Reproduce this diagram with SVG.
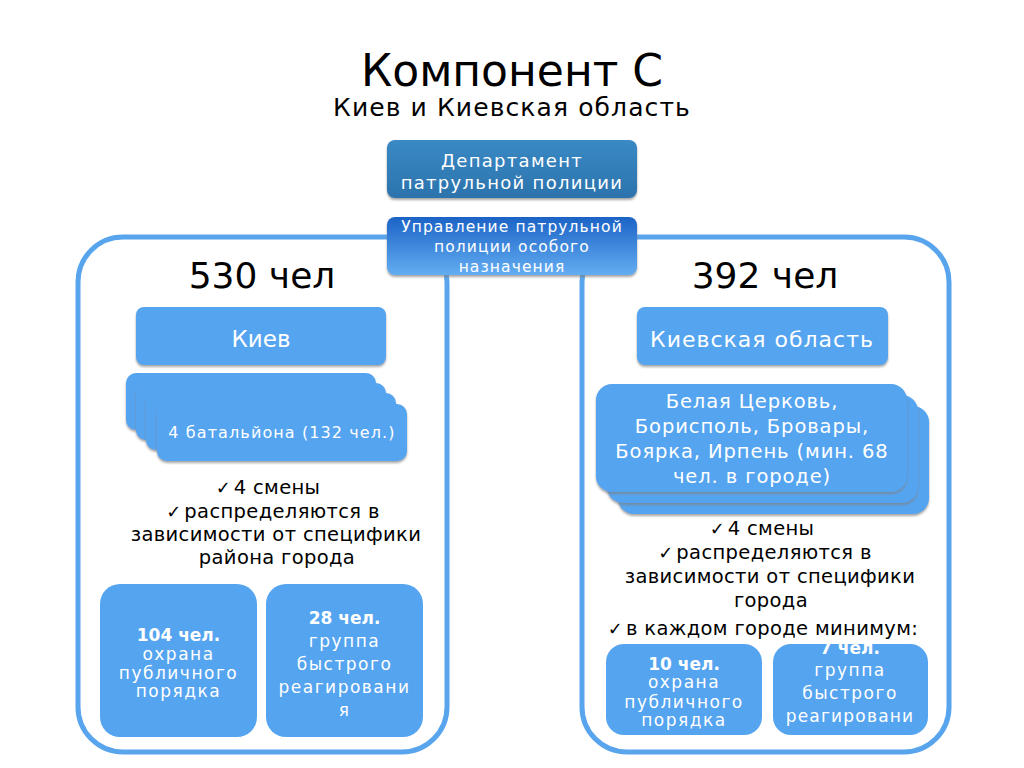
<svg xmlns="http://www.w3.org/2000/svg" width="1024" height="768" viewBox="0 0 1024 768">
<defs>
<style>
text{font-family:"DejaVu Sans","Liberation Sans",sans-serif;}
.blk{fill:#000;}
.wht{fill:#fff;}
.box{fill:#55a4f0;}
.cont{fill:none;stroke:#58a5ee;stroke-width:5;}
.ck{font-size:18px;letter-spacing:3px;}
.b{font-weight:bold;letter-spacing:0;}
.sp{letter-spacing:1.5px;}
</style>
<linearGradient id="gDept" x1="0" y1="0" x2="0" y2="1">
<stop offset="0" stop-color="#3a89c4"/>
<stop offset="1" stop-color="#2c73ad"/>
</linearGradient>
<linearGradient id="gUpr" x1="0" y1="0" x2="0" y2="1">
<stop offset="0" stop-color="#1c63c6"/>
<stop offset="1" stop-color="#63adf2"/>
</linearGradient>
<filter id="sh" x="-10%" y="-10%" width="120%" height="130%">
<feDropShadow dx="0" dy="2" stdDeviation="1" flood-color="#808080" flood-opacity="0.7"/>
</filter>
<clipPath id="c4"><rect x="773" y="644" width="155" height="92" rx="18"/></clipPath>
</defs>
<rect width="1024" height="768" fill="#fff"/>

<g id="title">
<text x="512" y="86" font-size="44" text-anchor="middle" class="blk">Компонент С</text>
<text x="512" y="116" font-size="25" letter-spacing="1.1" text-anchor="middle" class="blk">Киев и Киевская область</text>
</g>

<g id="connectors">
<rect id="left-container" class="cont" x="78" y="237" width="369" height="515" rx="45"/>
<rect id="right-container" class="cont" x="582" y="237" width="367" height="515" rx="45"/>
</g>

<g id="dept">
<rect x="387" y="140" width="250" height="58" rx="8" fill="url(#gDept)" filter="url(#sh)"/>
<text x="512" y="167" font-size="18" letter-spacing="1.3" text-anchor="middle" class="wht">Департамент</text>
<text x="512" y="189" font-size="18" letter-spacing="1.3" text-anchor="middle" class="wht">патрульной полиции</text>
</g>

<g id="upr">
<rect x="387" y="217" width="250" height="58" rx="8" fill="url(#gUpr)" filter="url(#sh)"/>
<text x="512" y="232" font-size="15.5" letter-spacing="1.1" text-anchor="middle" class="wht">Управление патрульной</text>
<text x="512" y="252" font-size="15.5" letter-spacing="1.1" text-anchor="middle" class="wht">полиции особого</text>
<text x="512" y="272" font-size="15.5" letter-spacing="1.1" text-anchor="middle" class="wht">назначения</text>
</g>

<g id="left-count">
<text x="262" y="288" font-size="36" text-anchor="middle" class="blk">530 чел</text>
</g>
<g id="right-count">
<text x="765" y="288" font-size="36" text-anchor="middle" class="blk">392 чел</text>
</g>

<g id="kiev">
<rect class="box" x="136" y="307" width="250" height="58" rx="8" filter="url(#sh)"/>
<text x="261" y="347" font-size="23" text-anchor="middle" class="wht">Киев</text>
</g>

<g id="kiev-oblast">
<rect class="box" x="637" y="307" width="251" height="58" rx="8" filter="url(#sh)"/>
<text x="762" y="347" font-size="22" letter-spacing="1" text-anchor="middle" class="wht">Киевская область</text>
</g>

<g id="battalions">
<rect class="box" x="126" y="373" width="250" height="57" rx="10" filter="url(#sh)"/>
<rect class="box" x="136" y="383" width="250" height="57" rx="10" filter="url(#sh)"/>
<rect class="box" x="146" y="393" width="250" height="57" rx="10" filter="url(#sh)"/>
<rect class="box" x="157" y="404" width="250" height="57" rx="10" filter="url(#sh)"/>
<text x="282" y="438" font-size="16" letter-spacing="1.1" text-anchor="middle" class="wht">4 батальйона (132 чел.)</text>
</g>

<g id="cities">
<rect class="box" x="618" y="406" width="311" height="108" rx="16" filter="url(#sh)"/>
<rect class="box" x="607" y="395" width="311" height="108" rx="16" filter="url(#sh)"/>
<rect class="box" x="596" y="384" width="311" height="108" rx="16" filter="url(#sh)"/>
<g font-size="19.5" letter-spacing="0.9" class="wht">
<text x="752" y="408" text-anchor="middle">Белая Церковь,</text>
<text x="752" y="433" text-anchor="middle">Борисполь, Бровары,</text>
<text x="752" y="458" text-anchor="middle">Боярка, Ирпень (мин. 68</text>
<text x="752" y="483" text-anchor="middle">чел. в городе)</text>
</g>
</g>

<g id="left-bullets" font-size="19.5" letter-spacing="0.35" class="blk">
<text x="268" y="494" text-anchor="middle"><tspan class="ck">✓</tspan>4 смены</text>
<text x="273" y="518" text-anchor="middle"><tspan class="ck">✓</tspan>распределяются в</text>
<text x="276" y="541" text-anchor="middle">зависимости от специфики</text>
<text x="277" y="564" text-anchor="middle">района города</text>
</g>

<g id="right-bullets" font-size="19.5" letter-spacing="0.35" class="blk">
<text x="762" y="535" text-anchor="middle"><tspan class="ck">✓</tspan>4 смены</text>
<text x="765" y="559" text-anchor="middle"><tspan class="ck">✓</tspan>распределяются в</text>
<text x="770" y="583" text-anchor="middle">зависимости от специфики</text>
<text x="771" y="607" text-anchor="middle">города</text>
<text x="763" y="635" text-anchor="middle"><tspan class="ck">✓</tspan>в каждом городе минимум:</text>
</g>

<g id="kiev-order" font-size="17" class="wht">
<rect class="box" x="100" y="584" width="157" height="153" rx="20"/>
<text x="178.5" y="641" text-anchor="middle" class="b">104 чел.</text>
<text x="178.5" y="660" text-anchor="middle" class="sp">охрана</text>
<text x="178.5" y="679" text-anchor="middle" class="sp">публичного</text>
<text x="178.5" y="697" text-anchor="middle" class="sp">порядка</text>
</g>

<g id="kiev-rapid" font-size="17" class="wht">
<rect class="box" x="266" y="584" width="157" height="153" rx="20"/>
<text x="344.5" y="624" text-anchor="middle" class="b">28 чел.</text>
<text x="344.5" y="647" text-anchor="middle" class="sp">группа</text>
<text x="344.5" y="670" text-anchor="middle" class="sp">быстрого</text>
<text x="344.5" y="693" text-anchor="middle" class="sp">реагировани</text>
<text x="344.5" y="716" text-anchor="middle" class="sp">я</text>
</g>

<g id="oblast-order" font-size="17" class="wht">
<rect class="box" x="606" y="644" width="156" height="91" rx="18"/>
<text x="684" y="670" text-anchor="middle" class="b">10 чел.</text>
<text x="684" y="688" text-anchor="middle" class="sp">охрана</text>
<text x="684" y="708" text-anchor="middle" class="sp">публичного</text>
<text x="684" y="726" text-anchor="middle" class="sp">порядка</text>
</g>

<g id="oblast-rapid" font-size="17" class="wht">
<rect class="box" x="773" y="644" width="155" height="91" rx="18"/>
<g clip-path="url(#c4)">
<text x="850" y="654" text-anchor="middle" class="b">7 чел.</text>
<text x="850" y="676" text-anchor="middle" class="sp">группа</text>
<text x="850" y="699" text-anchor="middle" class="sp">быстрого</text>
<text x="850" y="722" text-anchor="middle" letter-spacing="1.2">реагировани</text>
<text x="850" y="745" text-anchor="middle" class="sp">я</text>
</g>
</g>
</svg>
